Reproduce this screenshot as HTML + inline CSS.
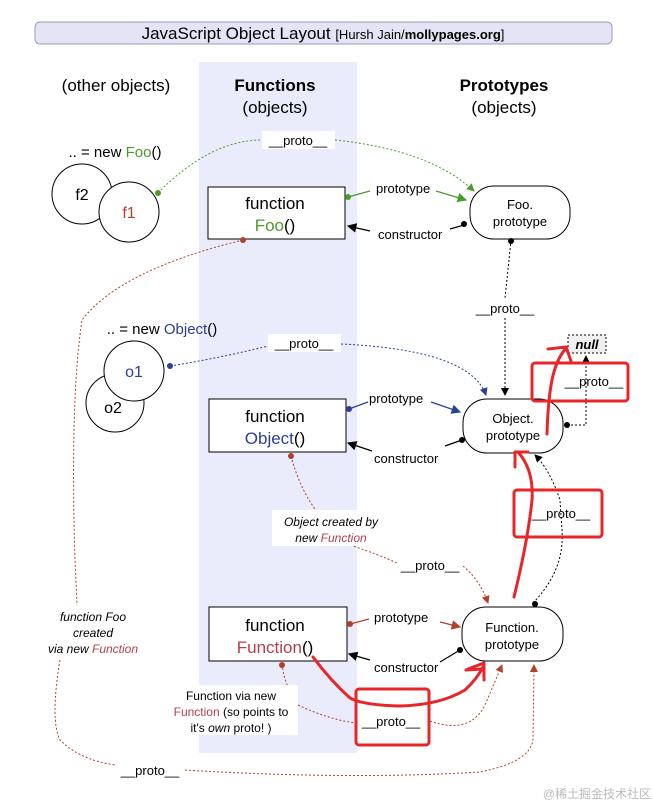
<!DOCTYPE html>
<html><head><meta charset="utf-8"><style>
html,body{margin:0;padding:0;background:#fff;}
svg{display:block;font-family:"Liberation Sans","Noto Sans CJK SC",sans-serif;}
</style></head><body>
<svg width="653" height="806" viewBox="0 0 653 806" xmlns="http://www.w3.org/2000/svg">
<defs>
<marker id="ag" markerWidth="8" markerHeight="8" refX="7" refY="4" orient="auto"><path d="M0,0 L8,4 L0,8 z" fill="#4a9c2a"/></marker>
<marker id="ab" markerWidth="8" markerHeight="8" refX="7" refY="4" orient="auto"><path d="M0,0 L8,4 L0,8 z" fill="#2a3f96"/></marker>
<marker id="ar" markerWidth="8" markerHeight="8" refX="7" refY="4" orient="auto"><path d="M0,0 L8,4 L0,8 z" fill="#b0412a"/></marker>
<marker id="ak" markerWidth="8" markerHeight="8" refX="7" refY="4" orient="auto"><path d="M0,0 L8,4 L0,8 z" fill="#000"/></marker>
</defs>
<rect x="199" y="62" width="158" height="691" fill="#eaecfb"/>
<rect x="35" y="22" width="577" height="22" rx="5" fill="#e4e4f6" stroke="#9a9ab8"/>
<text x="323" y="39" text-anchor="middle" font-size="17">JavaScript Object Layout <tspan font-size="13">[Hursh Jain/<tspan font-weight="bold">mollypages.org</tspan>]</tspan></text>
<text x="116" y="91" text-anchor="middle" font-size="17">(other objects)</text>
<text x="275" y="91" text-anchor="middle" font-size="17" font-weight="bold">Functions</text>
<text x="275" y="113" text-anchor="middle" font-size="17">(objects)</text>
<text x="504" y="91" text-anchor="middle" font-size="17" font-weight="bold">Prototypes</text>
<text x="504" y="113" text-anchor="middle" font-size="17">(objects)</text>

<g fill="none" stroke-width="1" stroke-dasharray="2,2">
<path d="M158,193 Q210,140 262,140" stroke="#4a9c2a"/>
<path d="M335,140 Q430,150 474,191" stroke="#4a9c2a" marker-end="url(#ag)"/>
<path d="M511,240 Q508,270 505,298" stroke="#000"/>
<path d="M505,318 L505,395" stroke="#000" marker-end="url(#ak)"/>
<path d="M170,366 Q220,358 268,346" stroke="#2a3f96"/>
<path d="M341,344 Q470,350 486,395" stroke="#2a3f96" marker-end="url(#ab)"/>
<path d="M567,425 L586,425 L586,356" stroke="#000" marker-end="url(#ak)"/>
<path d="M533,603 Q565,570 562,530 L560,500 Q550,470 535,455" stroke="#000" marker-end="url(#ak)"/>
<path d="M291,456 Q300,490 318,513" stroke="#b0412a"/>
<path d="M350,545 Q380,555 397,563" stroke="#b0412a"/>
<path d="M463,566 Q480,580 488,603" stroke="#b0412a" marker-end="url(#ar)"/>
<path d="M282,664 Q285,690 298,698" stroke="#b0412a"/>
<path d="M298,705 Q330,720 356,723" stroke="#b0412a"/>
<path d="M430,721 Q470,735 485,705 L502,665" stroke="#b0412a" marker-end="url(#ar)"/>
<path d="M243,240 Q120,270 82,320 Q70,400 75,560 L77,605" stroke="#b0412a"/>
<path d="M60,660 Q50,720 60,740 Q80,760 115,765" stroke="#b0412a"/>
<path d="M185,770 Q350,780 480,772 Q530,762 533,740 L534,665" stroke="#b0412a" marker-end="url(#ar)"/>
</g>

<rect x="262" y="131" width="73" height="18" fill="#fff"/>
<text x="298" y="145" text-anchor="middle" font-size="13">__proto__</text>
<rect x="268" y="334" width="73" height="18" fill="#fff"/>
<text x="304" y="348" text-anchor="middle" font-size="13">__proto__</text>
<text x="505" y="313" text-anchor="middle" font-size="13">__proto__</text>
<text x="594" y="386" text-anchor="middle" font-size="13">__proto__</text>
<text x="561" y="518" text-anchor="middle" font-size="13">__proto__</text>
<text x="430" y="570" text-anchor="middle" font-size="13">__proto__</text>
<text x="391" y="726" text-anchor="middle" font-size="13">__proto__</text>
<text x="150" y="775" text-anchor="middle" font-size="13">__proto__</text>

<rect x="568" y="335" width="38" height="18" fill="#f0f0f0" stroke="#000" stroke-dasharray="2,2"/>
<text x="587" y="349" text-anchor="middle" font-size="13" font-weight="bold" font-style="italic">null</text>

<text x="115" y="157" text-anchor="middle" font-size="15">.. = new <tspan fill="#4a9c2a">Foo</tspan>()</text>
<circle cx="82" cy="194" r="30" fill="#fff" stroke="#000"/>
<text x="82" y="200" text-anchor="middle" font-size="16">f2</text>
<circle cx="129" cy="212" r="30" fill="#fff" stroke="#000"/>
<text x="129" y="218" text-anchor="middle" font-size="16" fill="#b0412a">f1</text>
<circle cx="158" cy="193" r="3" fill="#4a9c2a"/>

<text x="162" y="334" text-anchor="middle" font-size="15">.. = new <tspan fill="#2a3f96">Object</tspan>()</text>
<circle cx="115" cy="403" r="29" fill="#fff" stroke="#000"/>
<text x="113" y="413" text-anchor="middle" font-size="16">o2</text>
<circle cx="134" cy="371" r="30" fill="#fff" stroke="#000"/>
<text x="134" y="377" text-anchor="middle" font-size="16" fill="#2a3f96">o1</text>
<circle cx="170" cy="366" r="3" fill="#2a3f96"/>

<rect x="208" y="187" width="137" height="52" fill="#fff" stroke="#000"/>
<text x="275" y="209" text-anchor="middle" font-size="17">function</text>
<text x="275" y="231" text-anchor="middle" font-size="17"><tspan fill="#4a9c2a">Foo</tspan>()</text>
<rect x="209" y="399" width="137" height="53" fill="#fff" stroke="#000"/>
<text x="275" y="422" text-anchor="middle" font-size="17">function</text>
<text x="275" y="444" text-anchor="middle" font-size="17"><tspan fill="#2a3f96">Object</tspan>()</text>
<rect x="209" y="607" width="138" height="54" fill="#fff" stroke="#000"/>
<text x="275" y="631" text-anchor="middle" font-size="17">function</text>
<text x="275" y="653" text-anchor="middle" font-size="17"><tspan fill="#b04050">Function</tspan>()</text>

<rect x="470" y="186" width="100" height="53" rx="24" ry="24" fill="#fff" stroke="#000"/>
<text x="520" y="209" text-anchor="middle" font-size="13">Foo.</text>
<text x="520" y="226" text-anchor="middle" font-size="13">prototype</text>
<rect x="463" y="399" width="100" height="54" rx="24" ry="24" fill="#fff" stroke="#000"/>
<text x="513" y="423" text-anchor="middle" font-size="13">Object.</text>
<text x="513" y="440" text-anchor="middle" font-size="13">prototype</text>
<rect x="462" y="607" width="101" height="54" rx="24" ry="24" fill="#fff" stroke="#000"/>
<text x="512" y="632" text-anchor="middle" font-size="13">Function.</text>
<text x="512" y="649" text-anchor="middle" font-size="13">prototype</text>

<g stroke-width="1.2" fill="none">
<path d="M348,197 L370,191" stroke="#4a9c2a"/>
<path d="M436,191 L466,200" stroke="#4a9c2a" marker-end="url(#ag)"/>
<path d="M370,231 L348,226" stroke="#000" marker-end="url(#ak)"/>
<path d="M450,229 L464,225" stroke="#000"/>
<path d="M349,409 L368,402" stroke="#2a3f96"/>
<path d="M431,402 L460,412" stroke="#2a3f96" marker-end="url(#ab)"/>
<path d="M372,451 L348,443" stroke="#000" marker-end="url(#ak)"/>
<path d="M445,446 L462,440" stroke="#000"/>
<path d="M350,624 L369,619" stroke="#b0412a"/>
<path d="M440,622 L460,627" stroke="#b0412a" marker-end="url(#ar)"/>
<path d="M370,660 L349,654" stroke="#000" marker-end="url(#ak)"/>
<path d="M440,662 L460,650" stroke="#000"/>
</g>
<text x="376" y="193" font-size="13">prototype</text>
<text x="378" y="239" font-size="13">constructor</text>
<text x="369" y="403" font-size="13">prototype</text>
<text x="374" y="463" font-size="13">constructor</text>
<text x="374" y="622" font-size="13">prototype</text>
<text x="374" y="672" font-size="13">constructor</text>
<g>
<circle cx="348" cy="197" r="3" fill="#4a9c2a"/>
<circle cx="464" cy="224" r="3" fill="#000"/>
<circle cx="511" cy="241" r="3" fill="#000"/>
<circle cx="243" cy="240" r="3" fill="#b0412a"/>
<circle cx="349" cy="409" r="3" fill="#2a3f96"/>
<circle cx="462" cy="440" r="3" fill="#000"/>
<circle cx="567" cy="425" r="3" fill="#000"/>
<circle cx="291" cy="456" r="3" fill="#b0412a"/>
<circle cx="350" cy="624" r="3" fill="#b0412a"/>
<circle cx="460" cy="650" r="3" fill="#000"/>
<circle cx="535" cy="604" r="3" fill="#000"/>
<circle cx="282" cy="665" r="3" fill="#b0412a"/>
</g>

<rect x="272" y="510" width="116" height="36" fill="#fff"/>
<text x="331" y="526" text-anchor="middle" font-size="12" font-style="italic">Object created by</text>
<text x="331" y="542" text-anchor="middle" font-size="12" font-style="italic">new <tspan fill="#b04050">Function</tspan></text>
<text x="93" y="621" text-anchor="middle" font-size="12" font-style="italic">function Foo</text>
<text x="93" y="637" text-anchor="middle" font-size="12" font-style="italic">created</text>
<text x="93" y="653" text-anchor="middle" font-size="12" font-style="italic">via new <tspan fill="#b04050">Function</tspan></text>
<rect x="174" y="685" width="124" height="50" fill="#fff"/>
<text x="231" y="700" text-anchor="middle" font-size="12">Function via new</text>
<text x="231" y="716" text-anchor="middle" font-size="12"><tspan fill="#b04050">Function</tspan> (so points to</text>
<text x="231" y="732" text-anchor="middle" font-size="12">it's <tspan font-style="italic">own</tspan> proto! )</text>

<g fill="none" stroke="#e8262a" stroke-width="3" stroke-linecap="round" stroke-linejoin="round">
<rect x="532" y="363" width="96" height="38" rx="3"/>
<rect x="514" y="490" width="88" height="47" rx="3"/>
<rect x="356" y="689" width="73" height="56" rx="3"/>
<path d="M313,657 Q330,680 350,698 Q362,705 400,706 Q440,705 465,690 Q478,678 484,665"/>
<path d="M468,669 L484,663 L484,680"/>
<path d="M466,670 L482,669"/>
<path d="M514,597 Q528,540 532,500 Q534,470 518,452"/>
<path d="M515,467 L515,452 L528,452"/>
<path d="M547,434 Q548,400 552,380 Q556,360 566,348"/>
<path d="M548,349 L566,347 L571,361"/>
</g>

<text x="651" y="798" text-anchor="end" font-size="12" fill="#bbb">@稀土掘金技术社区</text>
</svg>
</body></html>
